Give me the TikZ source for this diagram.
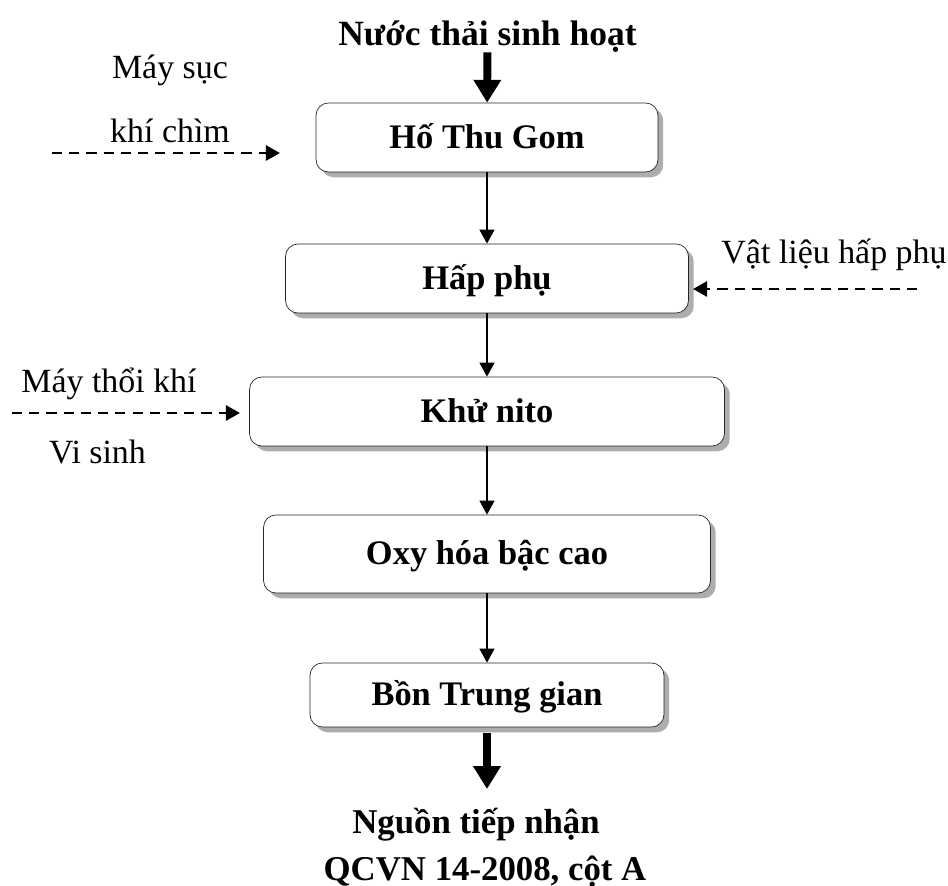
\documentclass[tikz,border=0pt]{standalone}
\usepackage{fontspec}
\setmainfont{Liberation Serif}
\usepackage{tikz}
\usetikzlibrary{arrows.meta,shadows}

\begin{document}
\begin{tikzpicture}[x=0.02cm,y=-0.02cm,>={Triangle[length=8pt,width=8.5pt]},
    font=\fontsize{19.3}{23}\selectfont,
    unit box/.style={draw=black!85,thin,rounded corners=7pt,fill=white,inner sep=0pt,
      drop shadow={shadow xshift=3pt,shadow yshift=-3pt,fill=black!32,opacity=1},
      font=\fontsize{19.6}{23}\selectfont\bfseries,text height=1.37em,text depth=0.15em},
    label text/.style={anchor=base,inner sep=0pt},
    flow/.style={->,line width=1pt},
    big flow/.style={-{Triangle[length=13pt,width=15pt]},line width=4.5pt},
    feed/.style={->,line width=1.7pt,dash pattern=on 5.8pt off 4pt}]

  \useasboundingbox (0,0) rectangle (948,886);

  \node[label text,font=\fontsize{20.2}{23}\selectfont\bfseries] (title) at (487.5,45) {Nước thải sinh hoạt};

  \node[unit box,minimum width=6.84cm,minimum height=1.38cm] (gom) at (487,137.5) {Hố Thu Gom};
  \node[unit box,minimum width=8.06cm,minimum height=1.38cm] (happhu) at (487,278.5) {Hấp phụ};
  \node[unit box,minimum width=9.5cm,minimum height=1.38cm] (khunito) at (487,411.5) {Khử nito};
  \node[unit box,minimum width=8.94cm,minimum height=1.56cm] (oxyhoa) at (487,554) {Oxy hóa bậc cao};
  \node[unit box,minimum width=7.08cm,minimum height=1.28cm] (bon) at (487,695) {Bồn Trung gian};

  \node[label text] (maysuc) at (170,78) {Máy sục};
  \node[label text] (khicham) at (170,142) {khí chìm};
  \node[label text] (vatlieu) at (834,263) {Vật liệu hấp phụ};
  \node[label text] (maythoi) at (109,392) {Máy thổi khí};
  \node[label text] (visinh) at (97.5,463) {Vi sinh};

  \node[label text,font=\fontsize{19.8}{23}\selectfont\bfseries] (nguon) at (476,833) {Nguồn tiếp nhận};
  \node[label text,font=\fontsize{19.8}{23}\selectfont\bfseries] (qcvn) at (485,880) {QCVN 14-2008, cột A};

  \coordinate (suc in) at (52,153);
  \coordinate (suc out) at (280,153);
  \coordinate (vl in) at (917,289);
  \coordinate (vl out) at (693,289);
  \coordinate (thoi in) at (12,413);
  \coordinate (thoi out) at (240,413);
  \coordinate (xa) at (487,789);

  \path[big flow] (title) edge (gom);
  \path[flow] (gom) edge (happhu)
              (happhu) edge (khunito)
              (khunito) edge (oxyhoa)
              (oxyhoa) edge (bon);
  \path[big flow] (bon) edge[shorten <=3pt] (xa);

  \path[feed] (suc in) edge (suc out)
              (vl in) edge (vl out)
              (thoi in) edge (thoi out);

\end{tikzpicture}
\end{document}
